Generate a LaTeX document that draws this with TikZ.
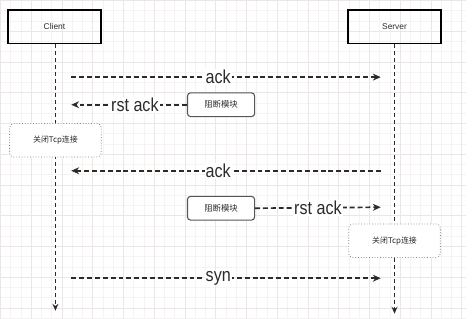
\documentclass[tikz,border=0pt]{standalone}
\usepackage{fontspec}
\setmainfont{Liberation Sans}
\newfontfamily\cjk{Noto Sans CJK SC}
\newfontfamily\lblfont[FakeStretch=0.86]{Liberation Sans}
\usepackage{xcolor}
\usetikzlibrary{arrows.meta,positioning,calc}

\definecolor{gridminor}{RGB}{246,243,243}
\definecolor{gridmajor}{RGB}{236,231,231}
\definecolor{inkgray}{RGB}{45,42,42}

\begin{document}
\begin{tikzpicture}[
  x=1pt, y=-1pt,
  actor/.style={draw=black, line width=1.6pt, minimum width=94pt,
                minimum height=34pt, font=\fontsize{8.5}{10}\selectfont,
                text=inkgray},
  blockbox/.style={draw=inkgray!80, line width=1.1pt, rounded corners=3pt,
                   minimum width=68pt, minimum height=24pt, fill=white,
                   font=\cjk\fontsize{8.5}{10}\selectfont, text=inkgray},
  closebox/.style={draw=gray, dotted, line width=0.8pt, rounded corners=4pt,
                   minimum width=93pt, minimum height=34pt, fill=white,
                   font=\cjk\fontsize{8}{10}\selectfont, text=inkgray},
  life/.style={draw=inkgray, line width=1.7pt, dash pattern=on 4pt off 3pt,
               -{Stealth[length=7pt,width=6pt]}},
  msg/.style={draw=inkgray, line width=1.7pt, dash pattern=on 5pt off 3pt,
              -{Stealth[length=8pt,width=7pt]}},
  lbl/.style={fill=white, inner sep=1pt, text=inkgray,
              font=\lblfont\fontsize{19}{20}\selectfont}
]
% background grid
\fill[white] (0,0) rectangle (472,323);
\foreach \k in {0,...,46} \draw[gridminor, line width=0.4pt] (\k*10.4,0) -- (\k*10.4,323);
\foreach \k in {0,...,31} \draw[gridminor, line width=0.4pt] (0,\k*10.4) -- (472,\k*10.4);
\foreach \k in {0,...,15} \draw[gridmajor, line width=0.5pt] (\k*31.2,0) -- (\k*31.2,323);
\foreach \k in {0,...,10} \draw[gridmajor, line width=0.5pt] (0,\k*31.2) -- (472,\k*31.2);
\useasboundingbox (0,0) rectangle (472,323);

% actors and lifelines
\node[actor] (client) at (55,27) {Client};
\node[actor] (server) at (400,27) {Server};
\coordinate (cend) at (56,315);
\coordinate (send) at (400,318);
\draw[life] (client.south -| cend) -- (cend);
\draw[life] (server.south -| send) -- (send);

% message end points
\coordinate (c1) at (72,78);   \coordinate (s1) at (386,78);
\coordinate (c2) at (72,106);
\coordinate (c3) at (72,173);  \coordinate (s3) at (386,173);
\coordinate (s4) at (386,210);
\coordinate (c5) at (72,282);  \coordinate (s5) at (386,282);

% blocking modules and closing boxes
\node[blockbox] (block1) at (224,106) {阻断模块};
\node[blockbox] (block2) at (224,211) {阻断模块};
\node[closebox] (cclose) at (56,142) {关闭Tcp连接};
\node[closebox] (sclose) at (400,244) {关闭Tcp连接};

% messages
\draw[msg] (c1) -- node[lbl, pos=0.475] {ack} (s1);
\draw[msg] (block1.west) -- node[lbl, pos=0.45] {rst ack} (c2);
\draw[msg] (s3) -- node[lbl, pos=0.525] {ack} (c3);
\draw[msg] (block2.east) -- node[lbl, pos=0.5] {rst ack} (s4);
\draw[msg] (c5) -- node[lbl, pos=0.475] {syn} (s5);
\end{tikzpicture}
\end{document}
